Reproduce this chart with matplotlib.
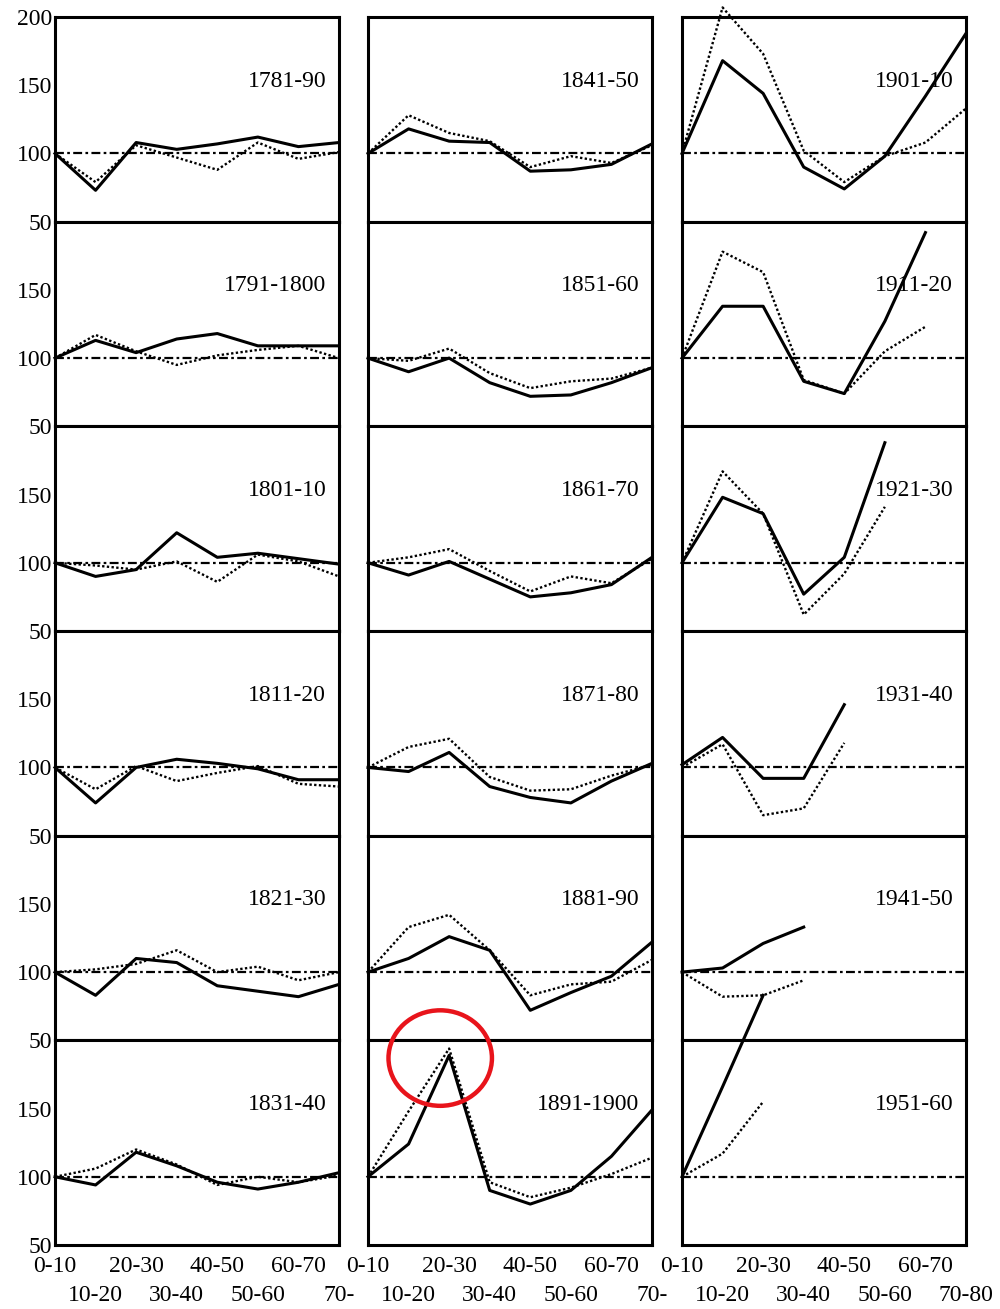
import matplotlib
matplotlib.use("Agg")
import matplotlib.pyplot as plt
from matplotlib.patches import Ellipse

plt.rcParams['font.family'] = ['Liberation Serif', 'DejaVu Serif']

# decades, column by column (top to bottom)
periods = ['1781-90', '1791-1800', '1801-10', '1811-20', '1821-30', '1831-40',
           '1841-50', '1851-60', '1861-70', '1871-80', '1881-90', '1891-1900',
           '1901-10', '1911-20', '1921-30', '1931-40', '1941-50', '1951-60']

age_groups = ['0-10', '10-20', '20-30', '30-40', '40-50', '50-60', '60-70', '70-']
age_groups_last = ['0-10', '10-20', '20-30', '30-40', '40-50', '50-60', '60-70', '70-80']

solid = [
    [100, 73, 108, 103, 107, 112, 105, 108],
    [100, 113, 104, 114, 118, 109, 109, 109],
    [100, 90, 95, 122, 104, 107, 103, 99],
    [100, 74, 100, 106, 103, 99, 91, 91],
    [100, 83, 110, 107, 90, 86, 82, 91],
    [100, 94, 118, 108, 96, 91, 96, 103],
    [100, 118, 109, 108, 87, 88, 92, 107],
    [100, 90, 100, 82, 72, 73, 82, 93],
    [100, 91, 101, 88, 75, 78, 84, 104],
    [100, 97, 111, 86, 78, 74, 90, 103],
    [100, 110, 126, 116, 72, 85, 97, 122],
    [100, 124, 189, 90, 80, 90, 115, 149],
    [100, 168, 144, 90, 74, 98, 142, 188],
    [100, 138, 138, 83, 74, 127, 192],
    [100, 148, 136, 77, 104, 188],
    [102, 122, 92, 92, 146],
    [100, 103, 121, 133],
    [100, 166, 233],
]

dotted = [
    [100, 79, 106, 97, 88, 108, 96, 101],
    [100, 117, 105, 95, 102, 106, 109, 100],
    [100, 98, 95, 101, 86, 106, 101, 90],
    [100, 84, 101, 90, 96, 101, 88, 86],
    [100, 102, 106, 116, 100, 104, 94, 100],
    [100, 106, 120, 109, 94, 100, 96, 101],
    [100, 128, 115, 109, 90, 98, 93, 106],
    [100, 98, 107, 89, 78, 83, 85, 93],
    [100, 104, 110, 94, 79, 90, 85, 103],
    [100, 115, 121, 93, 83, 84, 94, 102],
    [100, 133, 142, 116, 83, 91, 93, 109],
    [100, 148, 194, 96, 85, 92, 102, 114],
    [100, 207, 173, 102, 79, 98, 108, 133],
    [100, 178, 163, 84, 74, 105, 123],
    [100, 167, 136, 62, 92, 141],
    [100, 117, 65, 70, 118],
    [100, 82, 83, 94],
    [100, 117, 155],
]

W, H = 1000, 1309
fig = plt.figure(figsize=(W / 100, H / 100), dpi=100)

col_left = [55, 368, 682]
col_w = 284
top, bottom = 17, 1245
row_h = (bottom - top) / 6

axes = []
for c in range(3):
    for r in range(6):
        k = c * 6 + r
        y0 = top + r * row_h
        ax = fig.add_axes([col_left[c] / W, 1 - (y0 + row_h) / H, col_w / W, row_h / H])
        ax.set_xlim(0, 7)
        ax.set_ylim(50, 200)
        for s in ax.spines.values():
            s.set_linewidth(2.2)

        ax.axhline(100, color='k', lw=1.6, ls=(0, (4, 1.5, 1.2, 1.5)), zorder=2)
        ax.plot(range(len(dotted[k])), dotted[k], color='k', lw=1.7,
                ls=(0, (1, 1)), clip_on=False, zorder=3)
        ax.plot(range(len(solid[k])), solid[k], color='k', lw=2.2,
                clip_on=False, zorder=4)
        ax.text(0.955, 153, periods[k], transform=ax.get_yaxis_transform(),
                ha='right', va='center', fontsize=17, zorder=1)

        ax.tick_params(which='both', length=0, labelsize=17)
        ax.tick_params(axis='y', pad=2)
        if c == 0:
            ax.set_yticks([50, 100, 150, 200] if r == 0 else [50, 100, 150])
        else:
            ax.set_yticks([])
        if r == 5:
            labs = age_groups_last if c == 2 else age_groups
            # staggered labels: even groups on the first line, odd on the second
            ax.set_xticks(range(0, 8, 2))
            ax.set_xticklabels(labs[0::2])
            ax.set_xticks(range(1, 8, 2), minor=True)
            ax.set_xticklabels(labs[1::2], minor=True)
            ax.tick_params(axis='x', which='major', pad=8)
            ax.tick_params(axis='x', which='minor', pad=29)
        else:
            ax.set_xticks([])
        axes.append(ax)

# red circle highlighting the 1891-1900 peak
ax = axes[11]
ax.add_patch(Ellipse((1.78, 187), 2.55, 70, fill=False, edgecolor='#e8141b',
                     lw=3.2, clip_on=False, zorder=10))

fig.savefig('out.png', dpi=100)
